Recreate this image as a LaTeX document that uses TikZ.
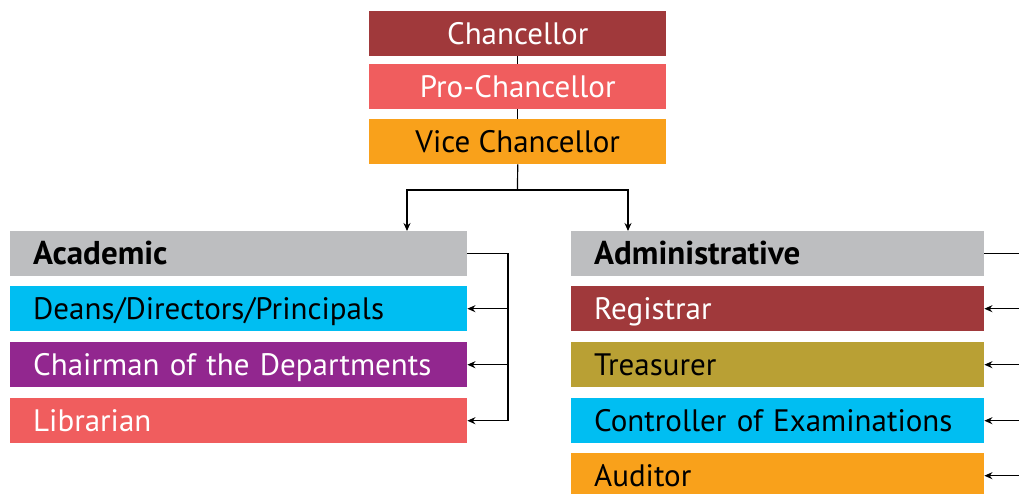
\documentclass[tikz,border=0pt]{standalone}
\usepackage{fontspec}
\setmainfont{PT Sans}
\usetikzlibrary{arrows.meta}
\definecolor{cdred}{HTML}{A0393B}
\definecolor{cpink}{HTML}{F05D5E}
\definecolor{corange}{HTML}{F9A11B}
\definecolor{cgray}{HTML}{BDBEC0}
\definecolor{ccyan}{HTML}{00BEF2}
\definecolor{cpurple}{HTML}{92278F}
\definecolor{colive}{HTML}{B9A034}
\tikzset{
  boxfont/.style={font=\fontsize{31}{33}\selectfont},
  topbox/.style={boxfont, minimum width=297pt, minimum height=45pt, inner sep=0pt, text height=21.6pt, text depth=0pt, anchor=north west},
  acbox/.style={boxfont, text width=411pt, inner xsep=23pt, inner ysep=0pt, minimum height=45pt, text height=21.6pt, text depth=0pt, align=left, anchor=north west},
  adbox/.style={boxfont, text width=367pt, inner xsep=23pt, inner ysep=0pt, minimum height=45pt, text height=21.6pt, text depth=0pt, align=left, anchor=north west},
  headfont/.style={font=\fontsize{33}{35}\selectfont\bfseries},
  conn/.style={draw=black, line width=1.2pt},
  arr/.style={conn, -{Stealth[length=8pt,width=7pt]}},
}
\begin{document}
\begin{tikzpicture}[x=1pt,y=-1pt]
\useasboundingbox (0,0) rectangle (1019,494);
\clip (0,0) rectangle (1019,494);
% top
\node[topbox, fill=cdred, text=white] (chan) at (369,11) {Chancellor};
\node[topbox, fill=cpink, text=white] (pro) at (369,64) {Pro-Chancellor};
\node[topbox, fill=corange, text=black] (vice) at (369,119) {Vice Chancellor};
\draw[conn] (chan) -- (pro);
\draw[conn] (pro) -- (vice);
% academic
\node[acbox, headfont, fill=cgray, text=black] (acad) at (10,231) {Academic};
\node[acbox, fill=ccyan, text=black] (deans) at (10,286) {Deans/Directors/Principals};
\node[acbox, fill=cpurple, text=white] (chair) at (10,342) {Chairman of the Departments};
\node[acbox, fill=cpink, text=white] (lib) at (10,398) {Librarian};
% administrative
\node[adbox, headfont, fill=cgray, text=black] (admin) at (571,231) {Administrative};
\node[adbox, fill=cdred, text=white] (reg) at (571,286) {Registrar};
\node[adbox, fill=colive, text=black] (treas) at (571,342) {Treasurer};
\node[adbox, fill=ccyan, text=black] (ctrl) at (571,398) {Controller of Examinations};
\node[adbox, fill=corange, text=black] (aud) at (571,453) {Auditor};
% fork
\coordinate (fork) at (517.5,190);
\coordinate (forkL) at (407,190);
\coordinate (forkR) at (628,190);
\draw[conn] (vice.south) -- (fork);
\draw[arr] (fork) -- (forkL) -- (forkL |- acad.north);
\draw[arr] (fork) -- (forkR) -- (forkR |- admin.north);
% academic bus
\coordinate (bl) at (508,0);
\draw[arr] (acad.east) -- (bl |- acad.east) -- (bl |- lib.east) -- (lib.east);
\draw[arr] (bl |- deans.east) -- (deans.east);
\draw[arr] (bl |- chair.east) -- (chair.east);
% administrative bus (beyond the right edge)
\coordinate (br) at (1026,0);
\draw[arr] (admin.east) -- (br |- admin.east) -- (br |- aud.east) -- (aud.east);
\draw[arr] (br |- reg.east) -- (reg.east);
\draw[arr] (br |- treas.east) -- (treas.east);
\draw[arr] (br |- ctrl.east) -- (ctrl.east);
\end{tikzpicture}
\end{document}
